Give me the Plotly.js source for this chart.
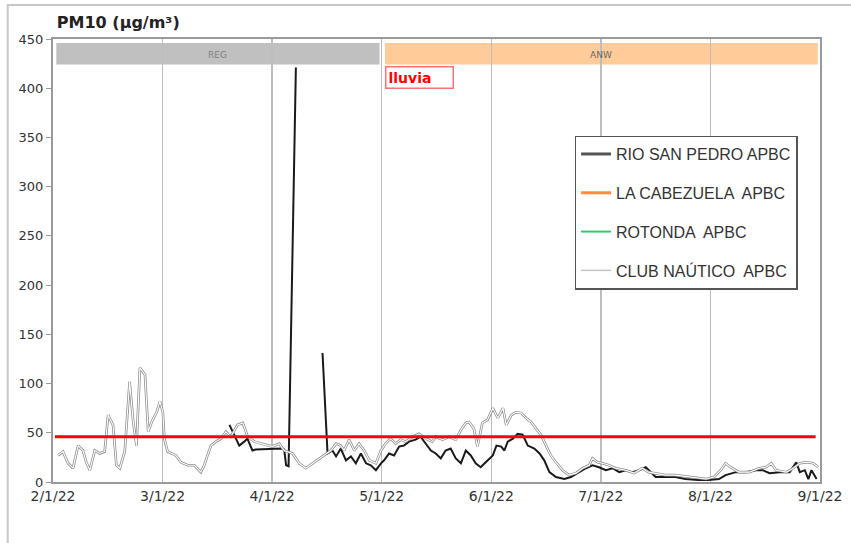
<!DOCTYPE html>
<html>
<head>
<meta charset="utf-8">
<script src="https://cdn.plot.ly/plotly-3.0.1.min.js"></script>
<style>html,body{margin:0;padding:0;background:#fff;}#chart{width:851px;height:543px;}</style>
</head>
<body>
<div id="chart"></div>
<script>
// ---- DATA ----
const tickLabels = ['2/1/22','3/1/22','4/1/22','5/1/22','6/1/22','7/1/22','8/1/22','9/1/22'];
const seriesNames = ['RIO SAN PEDRO APBC','LA CABEZUELA  APBC','ROTONDA  APBC','CLUB NAÚTICO  APBC'];

const nauticoDates = [
 '2022-02-02 07','2022-02-03 13','2022-02-04 20','2022-02-06 03','2022-02-07 10','2022-02-08 16','2022-02-09 12','2022-02-10 10',
 '2022-02-11 16','2022-02-12 22','2022-02-14 05','2022-02-15 02','2022-02-16 08','2022-02-17 05','2022-02-18 02','2022-02-19 08',
 '2022-02-20 14','2022-02-21 12','2022-02-22 08','2022-02-23 05','2022-02-24 12','2022-02-25 08','2022-02-26 05','2022-02-27 12',
 '2022-02-28 08','2022-03-01 02','2022-03-01 12','2022-03-02 10','2022-03-04 19','2022-03-06 05','2022-03-08 02','2022-03-10 00',
 '2022-03-11 20','2022-03-12 19','2022-03-13 17','2022-03-14 17','2022-03-16 02','2022-03-17 12','2022-03-18 22','2022-03-20 07',
 '2022-03-22 05','2022-03-23 17','2022-03-25 02','2022-03-27 00','2022-03-28 22','2022-03-30 19','2022-04-01 02','2022-04-02 22',
 '2022-04-04 07','2022-04-06 14','2022-04-08 10','2022-04-10 05','2022-04-12 00','2022-04-13 22','2022-04-15 05','2022-04-17 02',
 '2022-04-18 12','2022-04-19 19','2022-04-20 17','2022-04-22 02','2022-04-23 12','2022-04-24 19','2022-04-26 05','2022-04-27 14',
 '2022-04-29 10','2022-04-30 19','2022-05-02 02','2022-05-03 12','2022-05-04 23','2022-05-06 10','2022-05-07 19','2022-05-09 17',
 '2022-05-11 14','2022-05-13 12','2022-05-15 07','2022-05-16 07','2022-05-18 05','2022-05-20 02','2022-05-21 22','2022-05-23 10',
 '2022-05-24 19','2022-05-25 17','2022-05-27 02','2022-05-28 02','2022-05-29 12','2022-05-30 22','2022-06-01 10','2022-06-02 19',
 '2022-06-04 05','2022-06-05 02','2022-06-06 12','2022-06-07 19','2022-06-09 05','2022-06-10 12','2022-06-11 22','2022-06-13 07',
 '2022-06-14 14','2022-06-16 00','2022-06-17 07','2022-06-18 17','2022-06-20 12','2022-06-22 07','2022-06-24 05','2022-06-26 00',
 '2022-06-27 19','2022-06-28 17','2022-06-30 02','2022-07-01 11','2022-07-03 07','2022-07-05 05','2022-07-08 00','2022-07-10 10',
 '2022-07-12 17','2022-07-14 14','2022-07-16 12','2022-07-19 07','2022-07-22 02','2022-07-27 00','2022-07-30 19','2022-08-01 22',
 '2022-08-03 22','2022-08-05 07','2022-08-06 17','2022-08-09 02','2022-08-12 00','2022-08-14 19','2022-08-16 17','2022-08-18 05',
 '2022-08-19 14','2022-08-22 12','2022-08-24 10','2022-08-26 07','2022-08-28 05','2022-08-30 02','2022-08-31 12'];
const nauticoValues = [
 27,31,19,14,37,32,20,12,
 32,29,31,68,58,17,14,31,
 102,61,37,116,109,51,61,71,
 82,71,44,31,27,20,17,17,
 10,17,27,37,41,44,51,46,
 58,60,46,41,39,37,36,39,
 32,29,19,14,19,24,27,32,
 39,37,32,43,32,39,32,22,
 19,32,39,44,39,43,41,46,
 49,44,41,46,43,46,43,53,
 60,61,54,36,60,63,75,65,
 75,58,68,71,70,65,61,54,
 48,37,27,20,12,7,9,14,
 17,24,20,19,17,14,12,9,
 14,10,9,7,7,5,3,5,
 12,19,15,10,10,14,15,19,
 12,10,14,19,20,19,15];

const sanPedroDates = [
 '2022-03-19 22','2022-03-21 07','2022-03-22 17','2022-03-24 02','2022-03-25 00','2022-03-26 10','2022-03-27 07','2022-04-03 17',
 '2022-04-04 07','2022-04-04 20','2022-04-05 12','2022-04-07 12','2022-04-10 00','2022-04-14 19','2022-04-16 04','2022-04-17 12',
 '2022-04-18 12','2022-04-19 19','2022-04-21 05','2022-04-22 14','2022-04-23 22','2022-04-25 07','2022-04-26 17','2022-04-28 00',
 '2022-04-29 10','2022-04-30 19','2022-05-01 16','2022-05-03 02','2022-05-04 12','2022-05-05 22','2022-05-07 07','2022-05-08 17',
 '2022-05-10 14','2022-05-12 00','2022-05-13 10','2022-05-14 22','2022-05-16 07','2022-05-17 17','2022-05-19 02','2022-05-20 12',
 '2022-05-21 23','2022-05-23 10','2022-05-24 19','2022-05-26 05','2022-05-27 14','2022-05-29 00','2022-05-30 10','2022-06-01 10',
 '2022-06-02 10','2022-06-03 17','2022-06-04 14','2022-06-05 12','2022-06-06 22','2022-06-08 05','2022-06-09 14','2022-06-11 00',
 '2022-06-12 19','2022-06-14 05','2022-06-15 12','2022-06-16 22','2022-06-18 17','2022-06-21 00','2022-06-22 19','2022-06-25 02',
 '2022-06-26 22','2022-06-28 17','2022-06-30 12','2022-07-02 10','2022-07-04 07','2022-07-06 05','2022-07-08 00','2022-07-09 22',
 '2022-07-11 19','2022-07-13 17','2022-07-15 02','2022-07-16 12','2022-07-19 07','2022-07-22 02','2022-07-24 22','2022-07-28 14',
 '2022-07-31 12','2022-08-03 10','2022-08-05 07','2022-08-08 05','2022-08-11 00','2022-08-13 22','2022-08-15 19','2022-08-17 17',
 '2022-08-20 14','2022-08-23 10','2022-08-25 07','2022-08-26 07','2022-08-27 17','2022-08-28 17','2022-08-29 14','2022-08-31 01'];
const sanPedroValues = [
 58,48,37,41,44,32,33,34,
 33,17,16,421,null,131,29,32,
 26,34,22,26,19,29,19,17,
 12,19,22,29,27,36,37,41,
 43,46,39,32,29,24,32,34,
 24,19,32,27,19,15,20,27,
 37,36,32,41,44,49,48,37,
 34,29,22,10,5,3,5,10,
 14,17,15,12,14,10,12,10,
 12,15,10,5,5,5,3,2,
 2,3,7,10,10,12,12,9,
 10,10,20,10,12,3,12,3];

const limitDates = ['2022-02-01 12','2022-08-30 18'];
const limitValues = [46, 46];

// ---- helpers ----
// position on axis: one equal-width slot per month (as in the original chart)
function monthPos(s) {
  const [d, h] = s.split(' ');
  const [Y, M, D] = d.split('-').map(Number);
  const hour = h ? Number(h) : 0;
  const dim = new Date(Y, M, 0).getDate();
  return (M - 2) + (D - 1 + hour / 24) / dim;
}
const tickVals = tickLabels.map((_, i) => i);

const traces = [
  {x: sanPedroDates.map(monthPos), y: sanPedroValues, mode: 'lines', name: seriesNames[0],
   line: {color: '#1a1a1a', width: 2}, legendgroup: 'a', showlegend: false},
  {x: [null], y: [null], mode: 'lines', name: seriesNames[0], line: {color: '#555555', width: 3}, legendgroup: 'a'},
  {x: [null], y: [null], mode: 'lines', name: seriesNames[1], line: {color: '#ff8a3d', width: 3}, legendgroup: 'b'},
  {x: [null], y: [null], mode: 'lines', name: seriesNames[2], line: {color: '#2fcc6a', width: 2}, legendgroup: 'c'},
  {x: nauticoDates.map(monthPos), y: nauticoValues, mode: 'lines', name: seriesNames[3],
   line: {color: '#8c8c8c', width: 2.6}, legendgroup: 'd', showlegend: false},
  {x: nauticoDates.map(monthPos), y: nauticoValues, mode: 'lines', name: seriesNames[3],
   line: {color: '#ffffff', width: 1.1}, legendgroup: 'd', showlegend: false},
  {x: [null], y: [null], mode: 'lines', name: seriesNames[3], line: {color: '#c4c4c4', width: 1.5}, legendgroup: 'd'},
  {x: limitDates.map(monthPos), y: limitValues, mode: 'lines', line: {color: '#ff0000', width: 3}, showlegend: false}
];

const layout = {
  width: 851, height: 543,
  margin: {l: 53, r: 31, t: 39, b: 61},
  paper_bgcolor: '#ffffff', plot_bgcolor: '#ffffff',
  font: {family: 'DejaVu Sans, Verdana, sans-serif', size: 12, color: '#333333'},
  title: {text: '<b>PM10 (µg/m³)</b>', font: {family: 'DejaVu Sans, Verdana, sans-serif', size: 16, color: '#222222'},
          xref: 'paper', x: 0.005, xanchor: 'left', yref: 'container', y: 1 - 22/543, yanchor: 'middle'},
  xaxis: {range: [0, 7], tickmode: 'array', tickvals: tickVals, ticktext: tickLabels,
          showgrid: true, gridcolor: '#bdbdbd', gridwidth: 1.5, zeroline: false,
          showline: true, linecolor: '#9a9a9a', linewidth: 2, mirror: true,
          ticks: '', tickfont: {size: 14, color: '#333333'}},
  yaxis: {range: [0, 450], tickmode: 'linear', tick0: 0, dtick: 50,
          showgrid: false, zeroline: false,
          showline: true, linecolor: '#9a9a9a', linewidth: 2, mirror: true,
          ticks: 'outside', ticklen: 5, tickcolor: '#9a9a9a', tickfont: {size: 13, color: '#333333'}},
  legend: {x: 0.68, y: 0.782, xanchor: 'left', yanchor: 'top', bgcolor: '#ffffff',
           bordercolor: '#555555', borderwidth: 1.5, tracegroupgap: 15,
           font: {family: 'Liberation Sans, Arial, sans-serif', size: 16, color: '#333333'}},
  shapes: [
    {type: 'rect', xref: 'x', yref: 'y', x0: 0.03, x1: 2.98, y0: 424, y1: 446, fillcolor: '#c0c0c0', line: {width: 0}, layer: 'below'},
    {type: 'rect', xref: 'x', yref: 'y', x0: 3.03, x1: 6.98, y0: 424, y1: 446, fillcolor: '#ffcc99', line: {width: 0}, layer: 'below'},
    {type: 'rect', xref: 'paper', yref: 'paper', x0: -0.059, x1: 1.2, y0: -0.3, y1: 1.077, line: {color: '#c8c8c8', width: 2}, fillcolor: 'rgba(0,0,0,0)'}
  ],
  annotations: [
    {xref: 'x', yref: 'y', x: 1.5, y: 434, text: 'REG', showarrow: false, font: {size: 9, color: '#808080'}},
    {xref: 'x', yref: 'y', x: 5.0, y: 434, text: 'ANW', showarrow: false, font: {size: 9, color: '#666666'}},
    {xref: 'x', yref: 'y', x: 3.03, y: 423, xanchor: 'left', yanchor: 'top', text: '<b>lluvia</b>', showarrow: false,
     align: 'left', width: 62, height: 16, borderpad: 2, bgcolor: '#ffffff', bordercolor: '#ff7070', borderwidth: 1.5,
     font: {size: 14, color: '#ff0000'}}
  ],
  showlegend: true
};

Plotly.newPlot('chart', traces, layout, {displayModeBar: false, staticPlot: true});
</script>
</body>
</html>
